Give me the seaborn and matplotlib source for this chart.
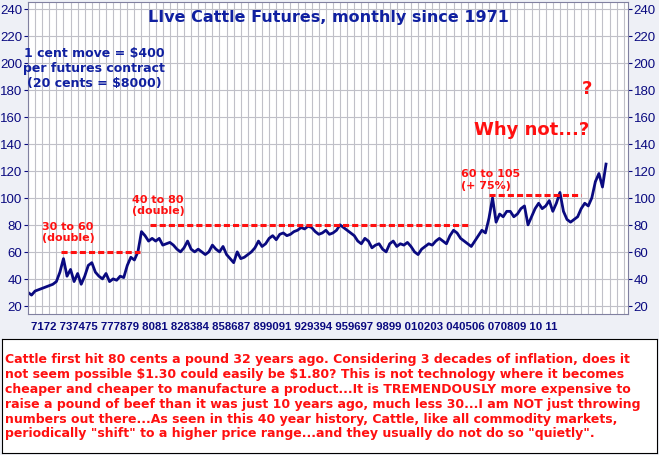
import matplotlib
matplotlib.use("Agg")
import matplotlib.pyplot as plt
import seaborn as sns
import numpy as np
import pandas as pd

years = list(range(1971, 2012))
quarterly_prices = [
    30,28,31,32, 33,34,35,36, 38,45,55,42, 47,38,44,36, 42,50,52,45,
    42,40,44,38, 40,39,42,41, 50,56,54,60, 75,72,68,70, 68,70,65,66,
    67,65,62,60, 63,68,62,60, 62,60,58,60, 65,62,60,64, 58,55,52,60,
    55,56,58,60, 63,68,64,66, 70,72,69,73, 74,72,73,75, 76,78,77,79,
    78,75,73,74, 76,73,74,76, 80,78,76,74, 72,68,66,70, 68,63,65,66,
    62,60,66,68, 64,66,65,67, 64,60,58,62, 64,66,65,68, 70,68,66,72,
    76,74,70,68, 66,64,68,72, 76,74,85,100, 82,88,86,90, 90,86,88,92,
    94,80,86,92, 96,92,94,98, 90,96,104,90, 84,82,84,86, 92,96,94,100,
    112,118,108,125,
]
times = [y + q * 0.25 for y in years for q in range(4)]
tick_label_groups = ["7172", "737475", "777879", "8081", "828384", "858687", "899091",
                     "929394", "959697", "9899", "010203", "040506", "070809", "10", "11"]
levels = [(1973.3, 1978.9, 60), (1979.6, 2002.0, 80), (2003.5, 2010.0, 102)]

df = pd.DataFrame({"t": times, "price": quarterly_prices})
navy = "#0a0a80"
red = "#ff1010"
bold = dict(fontfamily="DejaVu Sans", fontweight="bold")
plt.rcParams["font.family"] = "Liberation Sans"

fig = plt.figure(figsize=(6.59, 4.56), dpi=100, facecolor="#eef0f6")
ax = fig.add_axes([28/659, 1-315/456, 600/659, 312/456])
ax.set_facecolor("white")
sns.lineplot(data=df, x="t", y="price", ax=ax, color=navy, lw=2)
for x0, x1, v in levels:
    ax.plot([x0, x1], [v, v], color=red, lw=2.2, ls=(0, (2, 1)))
ax.set_xlim(1971, 2013.3)
ax.set_ylim(14, 245)
ax.set_xticks(np.arange(1971, 2013.3, 0.5))
ax.set_xticklabels([])
ax.tick_params(axis="x", length=0)
ax.grid(True, axis="x", color="#c0c0c8", lw=0.8)
ax.set_yticks(range(20, 241, 20))
ax.grid(True, axis="y", color="#c0c0c8", lw=0.8)
ax.tick_params(axis="y", labelsize=9.5, colors=navy, labelright=True, right=True, length=3, pad=1)
ax.set_xlabel(""); ax.set_ylabel("")
for s in ax.spines.values():
    s.set_color("#8080a0")
fig.text(31/659, 1-327/456, " ".join(tick_label_groups), ha="left", va="center",
         fontsize=8.2, color=navy, fontfamily="Liberation Sans", fontweight="bold")

ax.text(0.5, 0.955, "LIve Cattle Futures, monthly since 1971", transform=ax.transAxes,
        ha="center", va="center", fontsize=11.5, color="#1020a0", **bold)
ax.text(0.11, 0.79, "1 cent move = \\$400\nper futures contract\n(20 cents = \\$8000)",
        transform=ax.transAxes, ha="center", va="center", fontsize=9,
        color="#1020a0", linespacing=1.2, **bold)
ax.text(1972, 67, "30 to 60\n(double)", color=red, fontsize=8, va="bottom", **bold)
ax.text(1978.3, 87, "40 to 80\n(double)", color=red, fontsize=8, va="bottom", **bold)
ax.text(2001.5, 106, "60 to 105\n(+ 75%)", color=red, fontsize=8, va="bottom", **bold)
ax.text(2010.6, 144, "Why not...?", color=red, fontsize=13, ha="right", va="bottom", **bold)
ax.text(2010.4, 175, "?", color=red, fontsize=13, ha="center", va="bottom", **bold)

tb = fig.add_axes([2/659, 2/456, 655/659, 114/456])
tb.set_xticks([]); tb.set_yticks([])
tb.set_facecolor("white")
tb.text(0.005, 0.5,
        "Cattle first hit 80 cents a pound 32 years ago. Considering 3 decades of inflation, does it\n"
        "not seem possible \\$1.30 could easily be \\$1.80? This is not technology where it becomes\n"
        "cheaper and cheaper to manufacture a product...It is TREMENDOUSLY more expensive to\n"
        "raise a pound of beef than it was just 10 years ago, much less 30...I am NOT just throwing\n"
        "numbers out there...As seen in this 40 year history, Cattle, like all commodity markets,\n"
        "periodically \"shift\" to a higher price range...and they usually do not do so \"quietly\".",
        transform=tb.transAxes, ha="left", va="center", fontsize=9.0,
        color=red, linespacing=1.18, **bold)
fig.savefig("out.png", dpi=100, facecolor=fig.get_facecolor())
